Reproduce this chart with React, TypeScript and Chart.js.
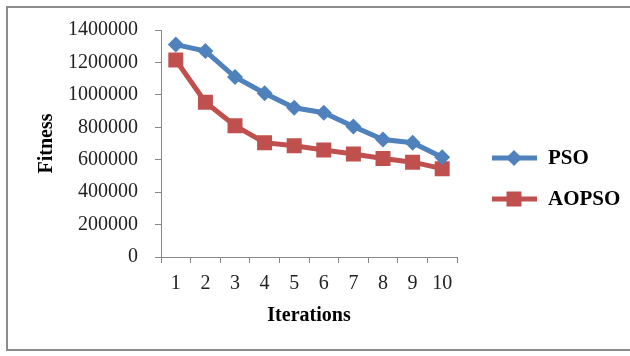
import React, { useEffect, useRef } from "react";
import { Chart, registerables } from "chart.js";

Chart.register(...registerables);

const iterations = ["1", "2", "3", "4", "5", "6", "7", "8", "9", "10"];
const psoValues = [1310000, 1270000, 1110000, 1010000, 920000, 890000, 805000, 725000, 705000, 615000];
const aopsoValues = [1215000, 955000, 810000, 705000, 686000, 660000, 635000, 608000, 585000, 545000];
const seriesNames = ["PSO", "AOPSO"];
const seriesColors = ["#4F81BD", "#C0504D"];
const seriesMarkers = ["rectRot", "rect"];
const yTitle = "Fitness";
const xTitle = "Iterations";

const SERIF = "'Liberation Serif', 'Times New Roman', serif";

const legendPlugin = {
  id: "sideLegend",
  afterDraw(chart: any) {
    const ctx = chart.ctx as CanvasRenderingContext2D;
    const ys = [158, 199];
    seriesNames.forEach((name, i) => {
      const y = ys[i];
      ctx.save();
      ctx.strokeStyle = seriesColors[i];
      ctx.lineWidth = 5;
      ctx.beginPath();
      ctx.moveTo(492, y);
      ctx.lineTo(537, y);
      ctx.stroke();
      ctx.fillStyle = seriesColors[i];
      ctx.beginPath();
      if (seriesMarkers[i] === "rect") {
        ctx.rect(514 - 7.5, y - 7.5, 15, 15);
      } else {
        ctx.moveTo(514, y - 8);
        ctx.lineTo(522, y);
        ctx.lineTo(514, y + 8);
        ctx.lineTo(506, y);
        ctx.closePath();
      }
      ctx.fill();
      ctx.fillStyle = "#000";
      ctx.font = `bold 21px ${SERIF}`;
      ctx.textBaseline = "middle";
      ctx.textAlign = "left";
      ctx.fillText(name, 548, y + 1);
      ctx.restore();
    });
  },
};

export default function App() {
  const ref = useRef<HTMLCanvasElement>(null);

  useEffect(() => {
    const canvas = ref.current!;
    const chart = new Chart(canvas, {
      type: "line",
      data: {
        labels: iterations,
        datasets: [
          {
            label: seriesNames[0],
            data: psoValues,
            borderColor: seriesColors[0],
            backgroundColor: seriesColors[0],
            borderWidth: 5,
            pointStyle: "rectRot",
            pointRadius: 8,
            pointBorderWidth: 0,
            tension: 0,
          },
          {
            label: seriesNames[1],
            data: aopsoValues,
            borderColor: seriesColors[1],
            backgroundColor: seriesColors[1],
            borderWidth: 5,
            pointStyle: "rect",
            pointRadius: 10.6,
            pointBorderWidth: 0,
            tension: 0,
          },
        ],
      },
      options: {
        animation: false,
        responsive: false,
        maintainAspectRatio: false,
        layout: { padding: { left: 10, top: 30, right: 173, bottom: 10 } },
        plugins: {
          legend: { display: false },
          tooltip: { enabled: false },
        },
        scales: {
          x: {
            type: "category",
            offset: true,
            grid: {
              offset: true,
              drawOnChartArea: false,
              drawTicks: true,
              tickLength: 6,
              color: "#888",
              lineWidth: 1,
            },
            border: { display: true, color: "#888", width: 1 },
            ticks: {
              font: { family: SERIF, size: 20 },
              color: "#222",
              padding: 9,
              maxRotation: 0,
            },
            title: {
              display: true,
              text: xTitle,
              font: { family: SERIF, size: 20, weight: "bold" },
              color: "#000",
              padding: { top: 4, bottom: 18 },
            },
            afterFit(axis: any) {
              axis.height = 89;
            },
          },
          y: {
            min: 0,
            max: 1400000,
            grid: {
              drawOnChartArea: false,
              drawTicks: true,
              tickLength: 6,
              color: "#888",
              lineWidth: 1,
            },
            border: { display: true, color: "#888", width: 1 },
            ticks: {
              stepSize: 200000,
              font: { family: SERIF, size: 20 },
              color: "#222",
              padding: 17,
              callback: (v: any) => String(v),
            },
            title: {
              display: true,
              text: yTitle,
              font: { family: SERIF, size: 20, weight: "bold" },
              color: "#000",
              padding: { top: 25, bottom: 4 },
            },
            afterFit(axis: any) {
              axis.width = 151;
            },
          },
        },
      },
      plugins: [legendPlugin],
    });
    return () => chart.destroy();
  }, []);

  return (
    <div style={{ position: "absolute", left: 0, top: 0, width: 630, height: 356, overflow: "hidden", background: "#fff" }}>
      <div
        style={{
          position: "absolute",
          left: 6,
          top: 6,
          width: 650,
          height: 345,
          border: "2px solid #8c8c8c",
          boxSizing: "border-box",
        }}
      />
      <canvas ref={ref} width={630} height={356} style={{ position: "absolute", left: 0, top: 0, width: 630, height: 356 }} />
    </div>
  );
}
